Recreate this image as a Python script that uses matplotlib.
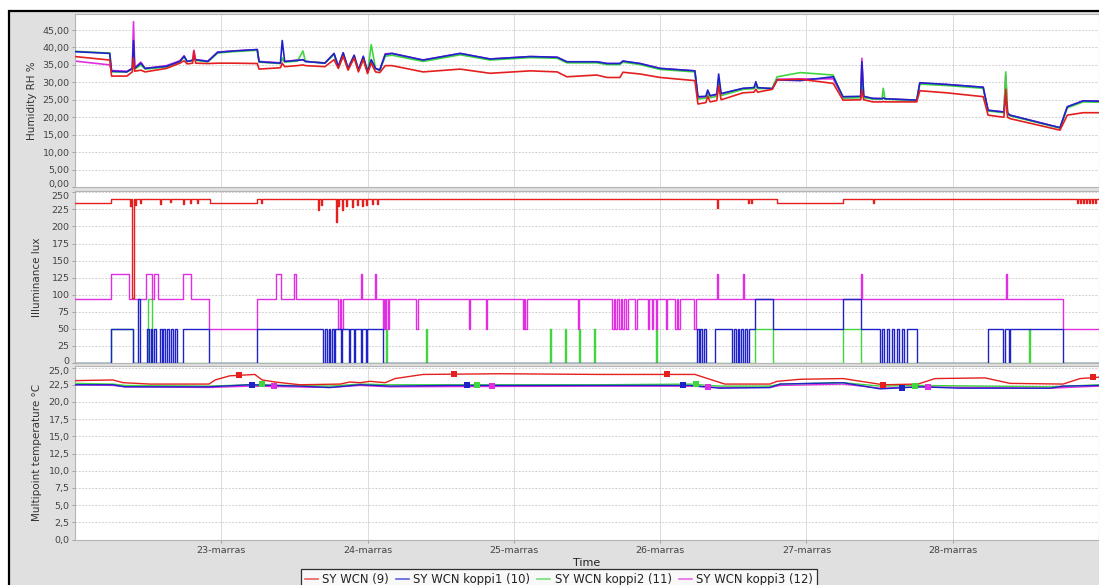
import matplotlib
matplotlib.use('Agg')
from matplotlib import pyplot as plt
from matplotlib.patches import Rectangle
from matplotlib.lines import Line2D
import matplotlib.transforms as mtransforms

# hours since 22-marras 00:00
day_hours = [24, 48, 72, 96, 120, 144]
day_labels = ['23-marras', '24-marras', '25-marras', '26-marras', '27-marras', '28-marras']
series_names = ['SY WCN (9)', 'SY WCN koppi1 (10)', 'SY WCN koppi2 (11)', 'SY WCN koppi3 (12)']

'humidity RH %'
hum_hours = [0, 5.7, 6.0, 8.5, 9.4, 9.6, 9.8, 10.8, 11.5, 15.0,
             17.2, 17.9, 18.4, 19.3, 19.5, 19.8, 21.8, 23.4, 26.0, 29.9,
             30.2, 33.7, 34.0, 34.4, 36.5, 37.4, 37.8, 41.0, 42.5, 43.2,
             44.0, 44.8, 45.8, 46.5, 47.3, 48.0, 48.6, 49.3, 50.0, 50.9,
             52.0, 57.1, 63.2, 68.1, 74.7, 79.1, 80.7, 85.6, 87.3, 89.4,
             89.9, 92.7, 96.0, 101.7, 102.2, 103.5, 103.8, 104.2, 105.3, 105.6,
             106.0, 109.6, 111.4, 111.7, 112.0, 114.4, 115.2, 119.0, 124.4, 126.0,
             128.9, 129.1, 129.4, 130.9, 132.4, 132.6, 132.9, 138.1, 138.6, 143.0,
             149.0, 149.8, 152.4, 152.7, 153.0, 153.4, 161.6, 162.8, 165.4, 168.0]
hum_red = [37.4, 36.4, 31.8, 31.8, 33.0, 37.0, 33.2, 33.5, 33.0, 34.0,
           35.5, 36.2, 35.3, 35.5, 39.0, 35.5, 35.4, 35.5, 35.5, 35.4,
           33.8, 34.2, 35.5, 34.5, 34.8, 35.0, 34.8, 34.5, 36.5, 34.0,
           37.5, 33.5, 37.0, 33.0, 36.5, 32.5, 35.5, 33.0, 32.8, 34.8,
           34.8, 33.0, 33.8, 32.6, 33.3, 33.0, 31.6, 32.1, 31.4, 31.4,
           32.9, 32.4, 31.4, 30.5, 23.8, 24.2, 26.0, 24.4, 24.8, 29.0,
           25.0, 27.0, 27.2, 28.0, 27.2, 28.0, 30.7, 30.9, 29.7, 24.9,
           25.0, 27.8, 25.0, 24.4, 24.4, 24.5, 24.4, 24.4, 27.6, 27.0,
           25.9, 20.6, 20.0, 28.0, 20.0, 19.6, 16.3, 20.6, 21.3, 21.3]
hum_blue = [38.8, 38.3, 33.2, 33.0, 34.0, 42.0, 34.0, 35.5, 34.0, 34.6,
            36.0, 37.5, 36.0, 36.3, 37.0, 36.5, 36.0, 38.6, 39.0, 39.4,
            35.9, 35.5, 42.0, 36.0, 36.3, 36.5, 36.0, 35.5, 38.3, 34.5,
            38.5, 34.0, 37.8, 33.5, 37.5, 33.0, 36.5, 34.0, 33.5, 38.0,
            38.3, 36.4, 38.3, 36.7, 37.4, 37.2, 35.9, 35.9, 35.4, 35.4,
            36.1, 35.4, 34.0, 33.3, 25.9, 26.0, 27.8, 26.2, 26.6, 32.4,
            26.8, 28.3, 28.5, 30.2, 28.5, 28.2, 30.7, 30.5, 31.6, 25.9,
            26.0, 35.9, 26.0, 25.4, 25.3, 25.5, 25.3, 24.9, 29.9, 29.4,
            28.6, 22.0, 21.5, 26.3, 21.2, 20.6, 17.0, 23.0, 24.7, 24.6]
hum_green = [38.9, 38.4, 33.0, 33.0, 33.8, 36.0, 33.8, 35.0, 33.8, 34.4,
             35.8, 37.3, 36.0, 36.2, 36.5, 36.3, 35.9, 38.4, 38.8, 39.2,
             35.8, 35.4, 37.0, 35.8, 36.1, 39.0, 36.0, 35.5, 38.0, 34.4,
             38.2, 34.0, 37.5, 33.6, 37.0, 33.0, 40.8, 34.0, 33.4, 37.5,
             37.8, 36.0, 37.9, 36.4, 37.1, 36.9, 35.6, 35.6, 35.1, 35.1,
             35.8, 35.1, 33.7, 33.0, 25.2, 25.5, 26.5, 25.6, 26.0, 30.0,
             26.2, 28.0, 28.2, 29.0, 28.2, 28.3, 31.6, 32.8, 32.1, 25.5,
             25.6, 30.0, 25.6, 25.2, 25.2, 28.3, 25.2, 24.8, 29.5, 29.1,
             28.3, 21.8, 21.3, 33.0, 21.0, 20.4, 16.9, 22.7, 24.4, 24.3]
hum_magenta = [36.1, 35.0, 33.4, 33.2, 34.0, 47.4, 34.2, 35.8, 34.0, 34.8,
               36.2, 37.6, 36.0, 36.4, 39.2, 36.5, 36.1, 38.7, 39.0, 39.4,
               36.0, 35.6, 36.5, 36.0, 36.4, 36.5, 36.0, 35.6, 38.2, 34.6,
               38.4, 34.0, 37.6, 33.6, 37.2, 33.1, 36.3, 34.0, 33.6, 38.2,
               38.3, 36.4, 38.3, 36.7, 37.4, 37.2, 35.9, 35.9, 35.4, 35.4,
               36.1, 35.4, 34.0, 33.3, 25.5, 25.8, 27.0, 26.0, 26.4, 31.0,
               26.6, 28.2, 28.4, 29.5, 28.4, 28.2, 30.9, 31.0, 31.0, 25.6,
               25.8, 36.9, 25.8, 25.4, 25.4, 25.6, 25.3, 24.9, 29.7, 29.4,
               28.6, 22.0, 21.5, 32.0, 21.2, 20.6, 17.0, 23.0, 24.7, 24.6]

'illuminance lux, (hour, level) from that hour on'
lux_red = [(0, 234), (5.9, 240), (9.0, 230), (9.2, 240), (9.27, 95), (9.6, 240), (9.84, 232), (10.0, 240),
           (10.66, 235), (10.83, 240), (13.95, 233), (14.1, 240), (15.6, 236), (15.75, 240), (17.7, 233),
           (17.85, 240), (18.9, 234), (19.05, 240), (20.0, 234), (20.15, 240), (22.15, 234), (29.86, 240),
           (30.5, 234), (30.7, 240), (39.9, 224), (40.05, 240), (40.4, 232), (40.55, 240), (42.8, 206),
           (42.95, 240), (43.15, 230), (43.3, 240), (43.8, 224), (43.95, 240), (44.5, 230), (44.65, 240),
           (45.45, 228), (45.6, 240), (46.3, 232), (46.45, 240), (47.1, 230), (47.25, 240), (47.75, 232),
           (47.9, 240), (48.7, 233), (48.85, 240), (49.55, 233), (49.7, 240), (105.3, 227), (105.45, 240),
           (110.4, 234), (110.55, 240), (110.9, 234), (111.05, 240), (115.2, 234), (126.0, 240),
           (130.9, 235), (131.05, 240), (164.4, 234), (164.55, 240), (164.9, 234), (165.05, 240),
           (165.4, 234), (165.55, 240), (165.9, 234), (166.05, 240), (166.4, 234), (166.55, 240),
           (166.9, 234), (167.05, 240), (167.4, 234), (167.55, 240), (168, 240)]
lux_blue = [(0, 0), (5.9, 50), (9.5, 0), (10.3, 94), (10.7, 0),
            (11.8, 50), (12.1, 0), (12.4, 50), (12.7, 0), (13.0, 50), (13.3, 0), (13.95, 50), (14.2, 0),
            (14.5, 50), (14.8, 0), (15.1, 50), (15.4, 0), (15.7, 50), (16.0, 0), (16.4, 50), (16.7, 0),
            (17.7, 50), (22.0, 0), (29.9, 50),
            (40.7, 0), (41.0, 50), (41.3, 0), (41.6, 50), (41.9, 0), (42.2, 50), (42.5, 0), (42.7, 50),
            (43.6, 0), (43.8, 50), (44.9, 0), (45.1, 50), (45.8, 0), (46.0, 50), (46.9, 0), (47.1, 50),
            (47.7, 0), (47.9, 50), (50.5, 0),
            (102.0, 50), (102.3, 0), (102.6, 50), (102.9, 0), (103.2, 50), (103.5, 0), (105.0, 50),
            (107.8, 0), (108.1, 50), (108.4, 0), (108.7, 50), (109.0, 0), (109.3, 50), (109.6, 0),
            (109.9, 50), (110.2, 0), (110.5, 50), (111.6, 94), (114.5, 50), (126.0, 94), (129.0, 50),
            (132.1, 0), (132.4, 50), (132.8, 0), (133.2, 50), (133.6, 0), (134.0, 50), (134.4, 0),
            (134.8, 50), (135.2, 0), (135.6, 50), (136.0, 0), (136.5, 50), (138.2, 0), (149.8, 50),
            (152.3, 0), (152.5, 50), (153.2, 0), (153.4, 50), (162.1, 0), (168, 0)]
lux_green = [(0, 0), (5.9, 50), (9.5, 0), (11.98, 94), (12.6, 0),
             (51.0, 50), (51.15, 0), (57.6, 50), (57.75, 0), (77.9, 50), (78.05, 0), (80.4, 50), (80.55, 0),
             (82.7, 50), (82.85, 0), (85.15, 50), (85.3, 0), (95.3, 50), (95.45, 0), (111.6, 50), (114.5, 0),
             (126.0, 50), (129.0, 0), (156.5, 50), (156.65, 0), (168, 0)]
lux_magenta = [(0, 94), (5.9, 130), (8.9, 94), (11.65, 130), (12.6, 94), (12.9, 130), (13.6, 94),
               (17.7, 130), (19.0, 94), (22.0, 50), (29.9, 94), (33.0, 130), (33.8, 94), (35.9, 130),
               (36.3, 94), (43.15, 50), (43.4, 94), (43.6, 50), (43.9, 94), (46.9, 130), (47.05, 94),
               (49.2, 130), (49.35, 94), (50.5, 50), (50.7, 94), (50.9, 50), (51.1, 94), (51.35, 50),
               (51.55, 94), (55.95, 50), (56.25, 94), (64.6, 50), (64.8, 94), (67.4, 50), (67.6, 94),
               (73.5, 50), (73.7, 94), (73.85, 50), (74.1, 94), (82.5, 50), (82.7, 94),
               (88.1, 50), (88.4, 94), (88.6, 50), (88.9, 94), (89.2, 50), (89.5, 94), (89.8, 50),
               (90.1, 94), (90.4, 50), (90.7, 94), (91.9, 50), (92.2, 94), (94.0, 50), (94.2, 94),
               (94.6, 50), (94.8, 94), (95.3, 50), (95.5, 94), (96.95, 50), (97.2, 94), (98.4, 50),
               (98.7, 94), (99.0, 50), (99.3, 94), (101.5, 50), (101.9, 94), (105.3, 130), (105.45, 94),
               (109.6, 130), (109.75, 94), (128.95, 130), (129.1, 94), (152.75, 130), (152.9, 94),
               (162.1, 50), (168, 50)]

'multipoint temperature °C'
temp_red = [(0, 23.1), (6.2, 23.2), (7.9, 22.8), (12.3, 22.6), (22.0, 22.6), (23.0, 23.2), (25.4, 23.8),
            (29.5, 24.0), (30.7, 23.2), (32.8, 22.9), (36.9, 22.5), (43.5, 22.6), (45.1, 22.9), (46.8, 22.8),
            (48.4, 23.0), (50.9, 22.8), (52.5, 23.4), (57.1, 24.0), (69.7, 24.1), (86.1, 24.0), (95.0, 24.0),
            (101.7, 24.0), (106.6, 22.6), (114.0, 22.6), (115.2, 23.0), (119.0, 23.3), (126.0, 23.4),
            (132.6, 22.5), (138.3, 22.6), (141.1, 23.4), (149.3, 23.5), (153.4, 22.7), (162.1, 22.6),
            (164.9, 23.4), (168, 23.6)]
temp_blue = [(0, 22.5), (6.2, 22.5), (8.2, 22.2), (22.0, 22.2), (28.7, 22.5), (36.9, 22.3), (41.8, 22.1),
             (46.8, 22.5), (51.7, 22.3), (61.5, 22.4), (86.1, 22.4), (100.9, 22.4), (105.8, 22.0),
             (114.0, 22.1), (115.7, 22.6), (126.0, 22.8), (132.1, 21.9), (138.6, 22.2), (145.2, 22.0),
             (160.0, 22.0), (162.1, 22.3), (168, 22.4)]
temp_green = [(0, 22.7), (6.2, 22.6), (8.2, 22.4), (22.0, 22.3), (28.7, 22.5), (41.8, 22.3), (46.8, 22.6),
              (51.7, 22.5), (86.1, 22.5), (100.9, 22.6), (105.8, 22.3), (114.0, 22.3), (115.7, 22.6),
              (126.0, 22.8), (132.1, 22.3), (138.6, 22.4), (160.0, 22.2), (168, 22.5)]
temp_magenta = [(0, 22.5), (6.2, 22.4), (8.2, 22.2), (22.0, 22.1), (28.7, 22.3), (41.8, 22.1), (46.8, 22.4),
                (51.7, 22.2), (86.1, 22.3), (100.9, 22.3), (105.8, 22.1), (114.0, 22.1), (115.7, 22.4),
                (126.0, 22.6), (132.1, 22.0), (138.6, 22.2), (160.0, 22.0), (168, 22.3)]
'square markers along the temperature lines'
mark_red = [(26.9, 23.85), (62.2, 24.05), (97.1, 24.0), (132.6, 22.5), (167.0, 23.6)]
mark_blue = [(29.0, 22.45), (64.3, 22.4), (99.75, 22.4), (135.7, 22.0)]
mark_green = [(30.7, 22.55), (66.0, 22.5), (101.9, 22.6), (137.8, 22.35)]
mark_magenta = [(32.6, 22.3), (68.4, 22.25), (103.9, 22.2), (139.95, 22.15)]

hum_ticks = [0, 5, 10, 15, 20, 25, 30, 35, 40, 45]
lux_ticks = [0, 25, 50, 75, 100, 125, 150, 175, 200, 225, 250]
temp_ticks = [0, 2.5, 5, 7.5, 10, 12.5, 15, 17.5, 20, 22.5, 25]

RED, BLUE, GREEN, MAGENTA = '#e3201f', '#1f22c8', '#3fd63f', '#e22ee2'
BG = '#e0e0e0'

fig = plt.figure(figsize=(10.99, 5.85), dpi=100, facecolor='white')
fig.patches.append(Rectangle((9 / 1099, -0.1), 1.2, 1 - 11 / 585 + 0.1, transform=fig.transFigure,
                             facecolor=BG, edgecolor='black', lw=1.6, zorder=-10))

L, W = 75 / 1099, 1 - 75 / 1099
ax_h = fig.add_axes([L, 1 - 187 / 585, W, 173 / 585])
ax_i = fig.add_axes([L, 1 - 363 / 585, W, 172 / 585])
ax_t = fig.add_axes([L, 1 - 539.5 / 585, W, 174 / 585])


def style(ax, ticks, labels, ylabel, pad):
	ax.set_facecolor('white')
	ax.set_xlim(0, 168)
	ax.set_yticks(ticks)
	ax.set_yticklabels(labels)
	ax.set_xticks(day_hours)
	ax.grid(axis='y', color='#c4c4c4', lw=0.6, linestyle=(0, (2, 2)))
	ax.grid(axis='x', color='#d6d6d6', lw=0.6)
	ax.set_axisbelow(True)
	for s in ax.spines.values():
		s.set_color('#b4b4b4')
		s.set_linewidth(0.8)
	ax.tick_params(axis='y', labelsize=6.8, labelcolor='#444444', length=2, width=0.5, color='#888888', pad=2)
	ax.set_ylabel(ylabel, fontsize=7.5, color='#333333', labelpad=pad)


def nudge(tick, dy):
	'shift a tick label up or down by dy pixels'
	tick.label1.set_transform(tick.label1.get_transform() + mtransforms.ScaledTranslation(0, dy / 100, fig.dpi_scale_trans))


style(ax_h, hum_ticks, [('%.2f' % v).replace('.', ',') for v in hum_ticks], 'Humidity RH %', 4)
ax_h.set_ylim(0, 49.6)
style(ax_i, lux_ticks, [str(v) for v in lux_ticks], 'Illuminance lux', 7)
ax_i.set_ylim(0, 252)
style(ax_t, temp_ticks, [('%.1f' % v).replace('.', ',') for v in temp_ticks], 'Multipoint temperature °C', 5)
ax_t.set_ylim(0, 25.3)
for ax in (ax_h, ax_i):
	ax.tick_params(axis='x', length=0, labelbottom=False)

'keep the stacked end labels apart where the panels meet'
nudge(ax_h.yaxis.get_major_ticks()[0], 3)
nudge(ax_i.yaxis.get_major_ticks()[-1], -3)
nudge(ax_i.yaxis.get_major_ticks()[0], 3)
nudge(ax_t.yaxis.get_major_ticks()[-1], -3)

ax_t.set_xticklabels(day_labels)
ax_t.tick_params(axis='x', labelsize=6.8, labelcolor='#444444', length=2, width=0.5, color='#888888', pad=3)
ax_t.set_xlabel('Time', fontsize=8, color='#222222', labelpad=2)

'humidity lines'
ax_h.plot(hum_hours, hum_magenta, color=MAGENTA, lw=1.2, zorder=2)
ax_h.plot(hum_hours, hum_green, color=GREEN, lw=1.2, zorder=3)
ax_h.plot(hum_hours, hum_blue, color=BLUE, lw=1.2, zorder=4)
ax_h.plot(hum_hours, hum_red, color=RED, lw=1.2, zorder=5)

'illuminance steps'
for data, col, z in [(lux_green, GREEN, 2), (lux_magenta, MAGENTA, 3), (lux_blue, BLUE, 4), (lux_red, RED, 5)]:
	hx = [p[0] for p in data]
	hy = [p[1] for p in data]
	ax_i.step(hx, hy, where='post', color=col, lw=1.0, zorder=z)

'temperature lines and markers'
for line, marks, col, z in [(temp_magenta, mark_magenta, MAGENTA, 2), (temp_green, mark_green, GREEN, 3),
                            (temp_blue, mark_blue, BLUE, 4), (temp_red, mark_red, RED, 5)]:
	ax_t.plot([p[0] for p in line], [p[1] for p in line], color=col, lw=1.0, zorder=z)
	ax_t.plot([p[0] for p in marks], [p[1] for p in marks], 's', color=col, ms=4.5, mew=0, zorder=z + 4)

handles = [Line2D([], [], color=c, lw=1.2, alpha=0.7) for c in (RED, BLUE, GREEN, MAGENTA)]
leg = fig.legend(handles, series_names, loc='center', bbox_to_anchor=(559 / 1099, 1 - 580 / 585), ncol=4,
                 fontsize=8.4, frameon=True, fancybox=False, edgecolor='black', facecolor='white',
                 handlelength=1.1, handletextpad=0.4, columnspacing=0.6, borderpad=0.35, borderaxespad=0)
leg.get_frame().set_linewidth(0.9)
for t in leg.get_texts():
	t.set_color('#222222')

plt.savefig('out.png', dpi=100, facecolor='white')
